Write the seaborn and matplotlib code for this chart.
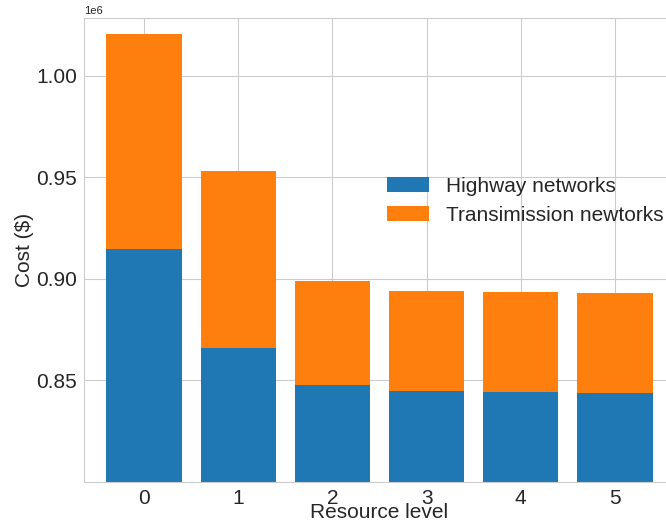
import matplotlib
matplotlib.use("Agg")
import matplotlib.pyplot as plt
import seaborn as sns
import pandas as pd

levels = [0, 1, 2, 3, 4, 5]
highway = [914800, 866100, 847900, 844900, 844500, 844000]
transmission = [105700, 87000, 51100, 49200, 49100, 49100]

sns.set_style("whitegrid")
plt.rcParams['font.family'] = ['Liberation Sans', 'DejaVu Sans']

fig = plt.figure(figsize=(6.66, 5.25), dpi=100)
ax = fig.add_axes([0.1261, 0.0819, 0.8874, 0.8838])

totals = [h + t for h, t in zip(highway, transmission)]
df_tot = pd.DataFrame({"level": levels, "value": totals})
df_hw = pd.DataFrame({"level": levels, "value": highway})

sns.barplot(data=df_tot, x="level", y="value", color="#ff7f0e", saturation=1,
            width=0.8, ax=ax, label="Transimission newtorks", native_scale=True,
            linewidth=0)
sns.barplot(data=df_hw, x="level", y="value", color="#1f77b4", saturation=1,
            width=0.8, ax=ax, label="Highway networks", native_scale=True,
            linewidth=0)

ax.set_ylim(800000, 1028400)
ax.set_xlim(-0.637, 5.637)
ax.set_yticks([850000, 900000, 950000, 1000000])
ax.ticklabel_format(axis="y", style="sci", scilimits=(6, 6))
ax.yaxis.get_offset_text().set_fontsize(8)
ax.tick_params(axis="both", labelsize=15, colors="#262626", pad=1.3)
ax.set_xticks(levels)
ax.set_xlabel("Resource level", fontsize=15, labelpad=-3.5)
ax.set_ylabel("Cost ($)", fontsize=15, labelpad=2)
for s in ax.spines.values():
    s.set_color("#cccccc")

handles, labels = ax.get_legend_handles_labels()
order = [1, 0]
ax.legend([handles[i] for i in order], [labels[i] for i in order],
          loc="upper left", bbox_to_anchor=(0.4815, 0.6986), frameon=False,
          fontsize=15)

fig.savefig("out.png", dpi=100)
